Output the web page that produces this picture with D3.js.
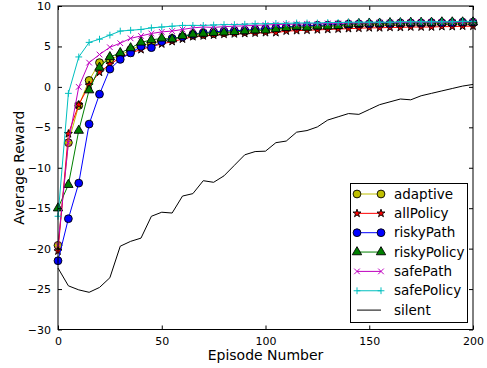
<!DOCTYPE html>
<html>
<head>
<meta charset="utf-8" />
<title>Average Reward</title>
<style type="text/css">
    body { margin: 0; background-color: #fff; }
    svg { font-family: "DejaVu Sans", sans-serif; }
    .axislabel { font-size: 14px; fill: #000; }
    .legend text { font-size: 13.5px; }
</style>
<script src="https://cdn.jsdelivr.net/npm/d3@7"></script>
</head>
<body>
<div id="chart"></div>
<script type="text/javascript">
var episodes = d3.range(0, 201, 5);

var adaptive = [-19.6, -6.9, -2.3, 0.8, 3.0, 3.4, 3.9, 4.6, 5.1, 5.4, 5.7, 5.9, 6.2, 6.4, 6.5, 6.6, 6.7, 6.8, 6.85, 6.9, 7.0,
    7.1, 7.2, 7.3, 7.35, 7.4, 7.5, 7.55, 7.6, 7.65, 7.7, 7.7, 7.75, 7.75, 7.8, 7.8, 7.8, 7.85, 7.85, 7.85, 7.9];
var allPolicy = [-20.3, -5.8, -2.2, 0.2, 1.8, 2.8, 3.6, 4.2, 4.6, 5.0, 5.3, 5.6, 5.9, 6.2, 6.3, 6.4, 6.5, 6.55, 6.6, 6.65, 6.7,
    6.7, 6.9, 6.95, 7.0, 7.05, 7.1, 7.15, 7.2, 7.25, 7.3, 7.3, 7.35, 7.35, 7.4, 7.4, 7.4, 7.45, 7.45, 7.5, 7.5];
var riskyPath = [-21.5, -16.3, -11.9, -4.6, -0.9, 2.2, 3.4, 4.2, 5.0, 4.85, 5.6, 6.0, 6.2, 6.5, 6.7, 6.8, 6.9, 6.95, 7.0, 7.1, 7.2,
    7.3, 7.4, 7.5, 7.55, 7.6, 7.65, 7.7, 7.75, 7.8, 7.8, 7.85, 7.85, 7.9, 7.9, 7.9, 7.95, 7.95, 7.95, 8.0, 8.0];
var riskyPolicy = [-15.0, -12.1, -5.4, -0.4, 2.4, 3.7, 4.2, 4.8, 5.5, 5.8, 6.0, 5.9, 6.3, 6.5, 6.6, 6.7, 6.75, 6.8, 6.9, 7.0, 7.0,
    7.15, 7.3, 7.45, 7.35, 7.5, 7.5, 7.55, 7.75, 7.8, 7.85, 7.85, 7.9, 7.9, 7.95, 7.95, 7.95, 8.0, 8.0, 8.0, 8.0];
var safePath = [-19.6, -6.9, 0.0, 3.0, 4.0, 4.9, 5.4, 6.0, 6.3, 6.6, 6.8, 6.9, 7.1, 7.3, 7.4, 7.35, 7.45, 7.5, 7.55, 7.6, 7.65,
    7.7, 7.75, 7.75, 7.8, 7.8, 7.85, 7.85, 7.9, 7.9, 7.9, 7.95, 7.95, 7.95, 8.0, 8.0, 8.0, 8.0, 8.0, 8.0, 8.05];
var safePolicy = [-16.0, -0.8, 3.7, 5.5, 5.9, 6.4, 6.9, 7.0, 7.1, 7.3, 7.4, 7.5, 7.6, 7.6, 7.6, 7.65, 7.7, 7.7, 7.75, 7.8, 7.8,
    7.85, 7.85, 7.9, 7.9, 7.9, 7.95, 7.95, 8.0, 8.0, 8.0, 8.0, 8.0, 8.05, 8.05, 8.05, 8.05, 8.05, 8.05, 8.1, 8.1];
var silent = [-22.4, -24.6, -25.1, -25.4, -24.8, -23.6, -19.7, -19.1, -18.7, -16.0, -15.5, -15.6, -13.5, -13.2, -11.6, -11.8,
    -11.0, -9.7, -8.4, -8.0, -7.95, -6.9, -6.7, -5.6, -5.4, -4.95, -4.1, -3.7, -3.3, -3.4, -2.8, -2.2, -1.85, -1.5, -1.6,
    -1.1, -0.8, -0.5, -0.2, 0.1, 0.3];

var xTicks = [0, 50, 100, 150, 200];
var yTicks = [-30, -25, -20, -15, -10, -5, 0, 5, 10];

var width = 487, height = 368;
var plotLeft = 58, plotRight = 473, plotTop = 6, plotBottom = 329.5;

// custom stroke markers for x and +
var symX = {
    draw: function (ctx, size) {
        var r = Math.sqrt(size) / 2;
        ctx.moveTo(-r, -r); ctx.lineTo(r, r);
        ctx.moveTo(-r, r); ctx.lineTo(r, -r);
    }
};
var symPlus = {
    draw: function (ctx, size) {
        var r = Math.sqrt(size) / 2 * 1.2;
        ctx.moveTo(-r, 0); ctx.lineTo(r, 0);
        ctx.moveTo(0, -r); ctx.lineTo(0, r);
    }
};

var series = [
    { name: "adaptive", values: adaptive, color: "#bfbf00", symbol: d3.symbolCircle, size: 48, fill: "#bfbf00", stroke: "#000" },
    { name: "allPolicy", values: allPolicy, color: "#ff0000", symbol: d3.symbolStar, size: 20, fill: "#ff0000", stroke: "#000" },
    { name: "riskyPath", values: riskyPath, color: "#0000ff", symbol: d3.symbolCircle, size: 48, fill: "#0000ff", stroke: "#000" },
    { name: "riskyPolicy", values: riskyPolicy, color: "#008000", symbol: d3.symbolTriangle, size: 38, fill: "#008000", stroke: "#000" },
    { name: "safePath", values: safePath, color: "#bf00bf", symbol: symX, size: 32, fill: "none", stroke: "#bf00bf" },
    { name: "safePolicy", values: safePolicy, color: "#00bfbf", symbol: symPlus, size: 32, fill: "none", stroke: "#00bfbf" },
    { name: "silent", values: silent, color: "#000", symbol: null }
];

var svg = d3.select("#chart").append("svg")
    .attr("width", width)
    .attr("height", height);

var xScale = d3.scaleLinear().domain([0, 200]).range([plotLeft, plotRight]);
var yScale = d3.scaleLinear().domain([-30, 10]).range([plotBottom, plotTop]);

var plot = svg.append("g");
plot.append("clipPath").attr("id", "clip")
    .append("rect").attr("x", plotLeft - 5).attr("y", plotTop - 5)
    .attr("width", plotRight - plotLeft + 10).attr("height", plotBottom - plotTop + 10);

var line = d3.line()
    .x(function (d, i) { return xScale(episodes[i]); })
    .y(function (d) { return yScale(d); });

series.forEach(function (s) {
    var g = plot.append("g").attr("clip-path", "url(#clip)");
    g.append("path")
        .attr("d", line(s.values))
        .attr("fill", "none")
        .attr("stroke", s.color)
        .attr("stroke-width", 1);
    if (s.symbol) {
        g.selectAll(".m")
            .data(s.values)
            .enter()
            .append("path")
            .attr("transform", function (d, i) {
                return "translate(" + xScale(episodes[i]) + "," + yScale(d) + ")";
            })
            .attr("d", d3.symbol().type(s.symbol).size(s.size))
            .attr("fill", s.fill)
            .attr("stroke", s.stroke)
            .attr("stroke-width", s.fill == "none" ? 1 : 0.9);
    }
});

// axes with inside ticks on all sides
var xAxis = d3.axisBottom(xScale).tickValues(xTicks).tickSizeInner(-4).tickSizeOuter(0).tickPadding(8);
var yAxis = d3.axisLeft(yScale).tickValues(yTicks).tickSizeInner(-4).tickSizeOuter(0).tickPadding(7);
var xAxisTop = d3.axisTop(xScale).tickValues(xTicks).tickSizeInner(-4).tickSizeOuter(0).tickFormat("");
var yAxisRight = d3.axisRight(yScale).tickValues(yTicks).tickSizeInner(-4).tickSizeOuter(0).tickFormat("");

svg.append("g").attr("class", "axis").attr("transform", "translate(0," + plotBottom + ")").call(xAxis);
svg.append("g").attr("class", "axis").attr("transform", "translate(" + plotLeft + ",0)").call(yAxis);
svg.append("g").attr("class", "axis").attr("transform", "translate(0," + plotTop + ")").call(xAxisTop);
svg.append("g").attr("class", "axis").attr("transform", "translate(" + plotRight + ",0)").call(yAxisRight);
svg.selectAll(".axis .domain").remove();
svg.selectAll(".axis text").attr("font-family", "DejaVu Sans, sans-serif").style("font-size", "11px").attr("fill", "#000");
svg.selectAll(".axis line").attr("stroke", "#000");

svg.append("rect")
    .attr("x", plotLeft).attr("y", plotTop)
    .attr("width", plotRight - plotLeft).attr("height", plotBottom - plotTop)
    .attr("fill", "none").attr("stroke", "#000").attr("stroke-width", 1);

svg.append("text")
    .attr("class", "axislabel")
    .attr("x", (plotLeft + plotRight) / 2)
    .attr("y", 360)
    .attr("text-anchor", "middle")
    .text("Episode Number");

svg.append("text")
    .attr("class", "axislabel")
    .attr("transform", "translate(24," + (plotTop + plotBottom) / 2 + ") rotate(-90)")
    .attr("text-anchor", "middle")
    .text("Average Reward");

// legend
var lg = svg.append("g").attr("class", "legend");
lg.append("rect")
    .attr("x", 350.5).attr("y", 183.5)
    .attr("width", 117).attr("height", 139)
    .attr("fill", "#fff").attr("stroke", "#000").attr("stroke-width", 1);

series.forEach(function (s, i) {
    var y = 194 + i * 19.35;
    lg.append("line")
        .attr("x1", 357).attr("x2", 381)
        .attr("y1", y).attr("y2", y)
        .attr("stroke", s.color).attr("stroke-width", 1);
    if (s.symbol) {
        [357, 381].forEach(function (x) {
            lg.append("path")
                .attr("transform", "translate(" + x + "," + y + ")")
                .attr("d", d3.symbol().type(s.symbol).size(s.size))
                .attr("fill", s.fill)
                .attr("stroke", s.stroke)
                .attr("stroke-width", s.fill == "none" ? 1 : 0.9);
        });
    }
    lg.append("text")
        .attr("x", 394)
        .attr("y", y)
        .attr("dy", "0.35em")
        .text(s.name);
});
</script>
</body>
</html>
